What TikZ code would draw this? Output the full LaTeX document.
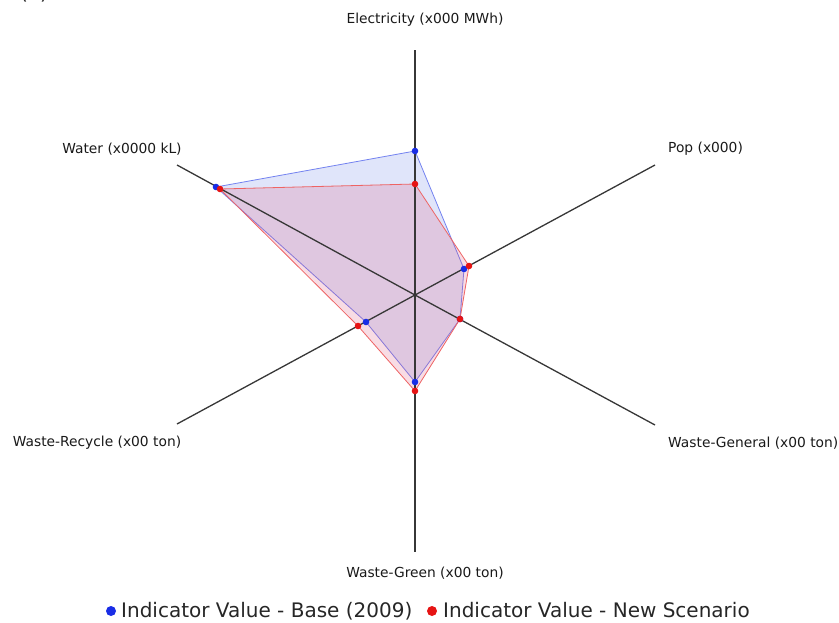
\documentclass[tikz,border=0pt]{standalone}
\usepackage{fontspec}
\setmainfont{DejaVu Sans}
\definecolor{axisgray}{RGB}{55,55,55}
\definecolor{baseedge}{RGB}{115,130,240}
\definecolor{basefill}{RGB}{224,229,250}
\definecolor{newedge}{RGB}{238,100,100}
\definecolor{newfill}{RGB}{220,80,120}
\definecolor{basedot}{RGB}{25,45,230}
\definecolor{newdot}{RGB}{230,20,20}
\begin{document}
\begin{tikzpicture}[x=1pt,y=-1pt,
    axis/.style={axisgray,line width=1.3pt},
    axislabel/.style={font=\fontsize{13.8}{15}\selectfont,text=black!90,inner sep=0pt},
    legendtext/.style={font=\fontsize{20}{22}\selectfont,text=black!85,inner sep=0pt,anchor=base west}]
    \useasboundingbox (0,0) rectangle (839,622);
    \node[font=\fontsize{20}{22}\selectfont,text=black!85,anchor=base] (tag) at (34,-1) {(a)};

    % Mittelpunkt und Achsenenden
    \coordinate (O) at (415,295);
    \coordinate (eEnd) at (415,50);
    \coordinate (pEnd) at (655,165);
    \coordinate (gEnd) at (655,425);
    \coordinate (grEnd) at (415,552);
    \coordinate (rEnd) at (177,424);
    \coordinate (wEnd) at (177,165);

    % Werte Basis (2009)
    \coordinate (bE) at (415,151);
    \coordinate (bP) at (464,269);
    \coordinate (bG) at (460,319);
    \coordinate (bGr) at (415,382);
    \coordinate (bR) at (366,322);
    \coordinate (bW) at (216,187);

    % Werte neues Szenario
    \coordinate (nE) at (415,184);
    \coordinate (nP) at (469,266);
    \coordinate (nG) at (460,319);
    \coordinate (nGr) at (415,391);
    \coordinate (nR) at (358,326);
    \coordinate (nW) at (220,189);

    % Flaechen
    \draw[baseedge,fill=basefill,line width=0.8pt] (bE) -- (bP) -- (bG) -- (bGr) -- (bR) -- (bW) -- cycle;
    \draw[newedge,fill=newfill,fill opacity=0.2,line width=0.8pt] (nE) -- (nP) -- (nG) -- (nGr) -- (nR) -- (nW) -- cycle;

    % Achsen
    \draw[axis] (O) -- (eEnd);
    \draw[axis] (O) -- (pEnd);
    \draw[axis] (O) -- (gEnd);
    \draw[axis] (O) -- (grEnd);
    \draw[axis] (O) -- (rEnd);
    \draw[axis] (O) -- (wEnd);

    % Punkte
    \fill[basedot] (bE) circle (3.3);
    \fill[basedot] (bP) circle (3.3);
    \fill[basedot] (bG) circle (3.3);
    \fill[basedot] (bGr) circle (3.3);
    \fill[basedot] (bR) circle (3.3);
    \fill[basedot] (bW) circle (3.3);
    \fill[newdot] (nE) circle (3.3);
    \fill[newdot] (nP) circle (3.3);
    \fill[newdot] (nG) circle (3.3);
    \fill[newdot] (nGr) circle (3.3);
    \fill[newdot] (nR) circle (3.3);
    \fill[newdot] (nW) circle (3.3);

    % Beschriftungen
    \node[axislabel] (eLab) at (425,20) {Electricity (x000 MWh)};
    \node[axislabel,anchor=west] (pLab) at (668,149) {Pop (x000)};
    \node[axislabel,anchor=west] (gLab) at (668,443) {Waste-General (x00 ton)};
    \node[axislabel] (grLab) at (425,573) {Waste-Green (x00 ton)};
    \node[axislabel] (rLab) at (97,443) {Waste-Recycle (x00 ton)};
    \node[axislabel] (wLab) at (122,149) {Water (x0000 kL)};

    % Legende
    \fill[basedot] (111,611) circle (5);
    \node[legendtext] (baseLeg) at (121,617) {Indicator Value - Base (2009)};
    \fill[newdot] (432,611) circle (5);
    \node[legendtext] (newLeg) at (443,617) {Indicator Value - New Scenario};
\end{tikzpicture}
\end{document}
